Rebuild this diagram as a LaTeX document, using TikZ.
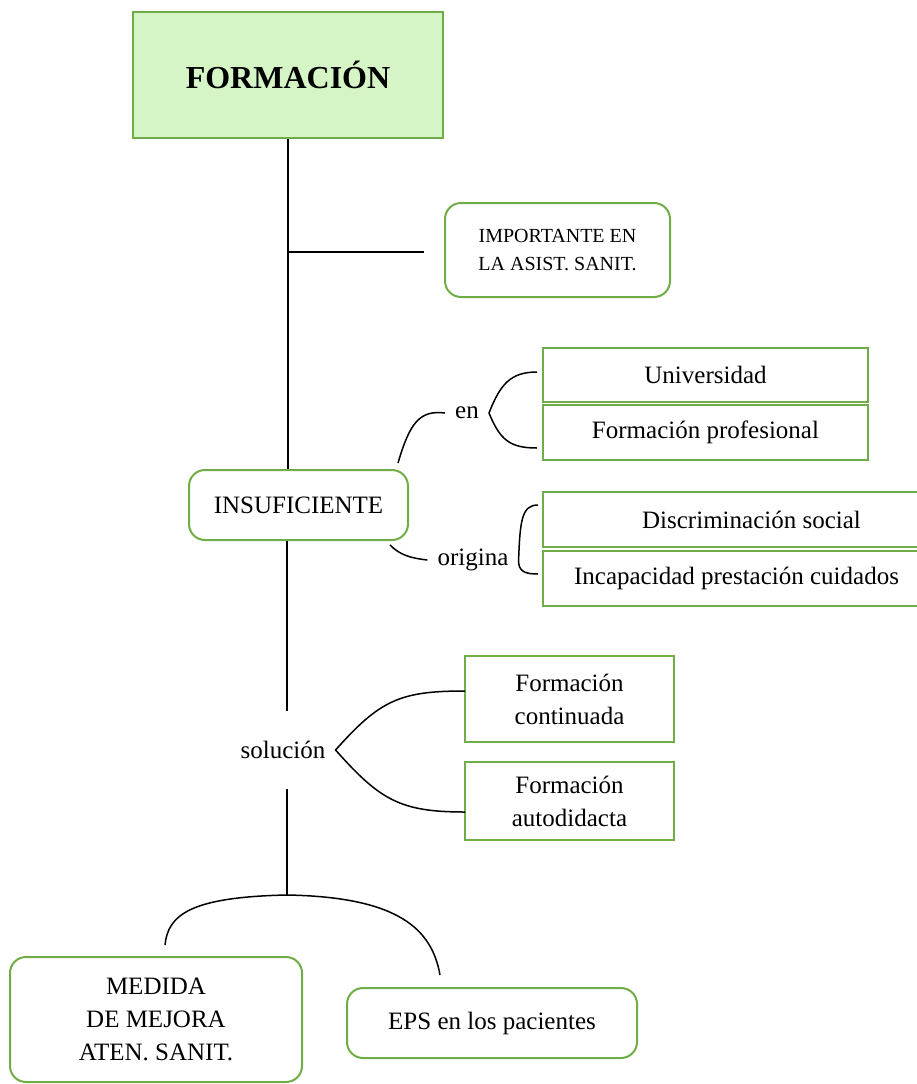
\documentclass[tikz,border=0pt]{standalone}
\usepackage{fontspec}
\setmainfont{Liberation Serif}
\definecolor{boxgreen}{RGB}{112,173,71}
\definecolor{boxfill}{RGB}{214,245,198}
\tikzset{
  sqbox/.style={draw=boxgreen,line width=2pt,align=center,inner sep=0pt,font=\fontsize{25}{33}\selectfont},
  rndbox/.style={sqbox,rounded corners=16pt},
  lbl/.style={inner xsep=10pt,inner ysep=0pt,font=\fontsize{25}{33}\selectfont},
  conn/.style={line width=1.5pt},
}

\begin{document}
\begin{tikzpicture}[x=1pt,y=-1pt]
\useasboundingbox (0,0) rectangle (917,1084);
\node[sqbox,fill=boxfill,minimum width=310,minimum height=126,font=\fontsize{32}{38}\selectfont\bfseries] (formacion) at (288,75) {FORMACIÓN};
\node[rndbox,minimum width=225,minimum height=94,font=\fontsize{20}{28}\selectfont] (importante) at (557.5,250) {IMPORTANTE EN\\LA ASIST. SANIT.};
\node[sqbox,minimum width=325,minimum height=54] (univ) at (705.5,375) {Universidad};
\node[sqbox,minimum width=325,minimum height=55] (fprof) at (705.5,432.5) {Formación profesional};
\node[rndbox,minimum width=219,minimum height=70] (insuf) at (298.5,505) {INSUFICIENTE};
\node[sqbox,minimum width=417,minimum height=55] (discr) at (751.5,519.5) {Discriminación social};
\node[sqbox,minimum width=387,minimum height=55] (incap) at (736.5,578.5) {Incapacidad prestación cuidados};
\node[sqbox,minimum width=209,minimum height=86] (fcont) at (569.5,699) {Formación\\continuada};
\node[sqbox,minimum width=209,minimum height=78] (fauto) at (569.5,801) {Formación\\autodidacta};
\node[rndbox,minimum width=292,minimum height=125] (medida) at (156,1019.5) {MEDIDA\\DE MEJORA\\ATEN. SANIT.};
\node[rndbox,minimum width=290,minimum height=70] (eps) at (492,1023) {EPS en los pacientes};
\node[lbl] (en) at (467,413) {en};
\node[lbl] (origina) at (473,560) {origina};
\node[lbl,minimum height=77] (solucion) at (283,750) {solución};
\coordinate (j1) at (287,252);
\coordinate (j2) at (287,895);
\coordinate (e1) at (537,372);
\coordinate (e2) at (537,448);
\coordinate (o1) at (538,505);
\coordinate (o2) at (538,574);
\coordinate (s1) at (465,691);
\coordinate (s2) at (465,812);
\coordinate (b1) at (165,945);
\coordinate (b2) at (440,975);
\draw[conn] (formacion.south) -- (formacion.south |- insuf.north);
\draw[conn] (j1) -- ([xshift=-20pt]importante.west |- j1);
\draw[conn] (insuf.south -| j2) -- (solucion.north -| j2);
\draw[conn] (solucion.south -| j2) -- (j2);
\draw[conn] (398,463) .. controls (410,422) and (420,410) .. (en.west);
\draw[conn] (e1) .. controls (510,372) and (500,385) .. (en.east) .. controls (500,440) and (510,448) .. (e2);
\draw[conn] (390,545) .. controls (400,555) and (410,558) .. (origina.west);
\draw[conn] (o1) .. controls (522,505) and (520,520) .. (origina.east) .. controls (518,572) and (526,574) .. (o2);
\draw[conn] (s1) .. controls (400,691) and (380,700) .. (solucion.east) .. controls (380,800) and (400,812) .. (s2);
\draw[conn] (b1) .. controls (168,915) and (190,897) .. (j2) .. controls (400,897) and (432,930) .. (b2);
\end{tikzpicture}
\end{document}
